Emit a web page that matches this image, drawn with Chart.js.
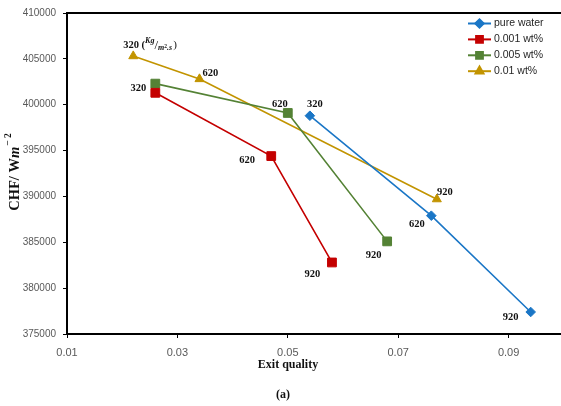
<!DOCTYPE html>
<html>
<head>
<meta charset="utf-8">
<script src="https://cdn.jsdelivr.net/npm/chart.js@4.4.1/dist/chart.umd.min.js"></script>
<style>
  html, body { margin: 0; padding: 0; background: #fff; overflow: hidden; }
  #wrap { width: 571px; height: 406px; }
</style>
</head>
<body>
<div id="wrap"><canvas id="c" width="571" height="406"></canvas></div>
<script>
// Series names and mass-flux labels (kg/m2.s) attached to each point
const seriesNames = ['pure water', '0.001 wt%', '0.005 wt%', '0.01 wt%'];
const massFlux = ['320', '620', '920'];

// Exit quality (x) and CHF in W/m2 (y) per series
const pureWaterX = [0.054, 0.076, 0.094];
const pureWaterY = [398800, 387900, 377400];
const wt001X = [0.026, 0.047, 0.058];
const wt001Y = [401300, 394400, 382800];
const wt005X = [0.026, 0.050, 0.068];
const wt005Y = [402300, 399100, 385100];
const wt01X = [0.022, 0.034, 0.077];
const wt01Y = [405300, 402800, 389700];

// Axis ticks
const xTicks = [0.01, 0.03, 0.05, 0.07, 0.09];
const yTicks = [375000, 380000, 385000, 390000, 395000, 400000, 405000, 410000];

const colors = ['#1A76C6', '#C40000', '#548235', '#C29400'];
const pointStyles = ['rectRot', 'rect', 'rect', 'triangle'];
const pointRadii = [4.8, 6.2, 6.2, 5.2];
const legendRadii = [4.2, 4.8, 4.8, 4.6];

// label offsets (px) from each point; null = no label drawn
const labelOffsets = [
  [[5, -11], [-14.5, 8.5], [-20, 4.8]],
  [[-17, -4.5], [-24, 4], [-19.5, 12]],
  [null, [-8, -9], [-13.5, 13.7]],
  [[-10, -11], [11, -6], [8, -7]]
];

const xs = [pureWaterX, wt001X, wt005X, wt01X];
const ys = [pureWaterY, wt001Y, wt005Y, wt01Y];

const serif = '"Liberation Serif", "Times New Roman", serif';
const sans = '"Liberation Sans", Arial, sans-serif';

function toPoints(xv, yv) { return xv.map((x, i) => ({ x: x, y: yv[i] })); }

function drawRich(ctx, parts, x, y) {
  let cx = x;
  ctx.textAlign = 'left';
  ctx.textBaseline = 'middle';
  for (const p of parts) {
    ctx.font = p.font;
    ctx.fillText(p.t, cx, y + (p.dy || 0));
    cx += ctx.measureText(p.t).width + (p.gap || 0);
  }
}
function richWidth(ctx, parts) {
  let w = 0;
  for (const p of parts) { ctx.font = p.font; w += ctx.measureText(p.t).width + (p.gap || 0); }
  return w;
}

const unitParts = [
  { t: '320 (', font: 'bold 10.5px ' + serif },
  { t: 'Kg', font: 'italic bold 8px ' + serif, dy: -4 },
  { t: '/', font: '13px ' + serif, dy: 0 },
  { t: 'm', font: 'italic bold 8px ' + serif, dy: 3 },
  { t: '2', font: 'bold 5.5px ' + serif, dy: 1 },
  { t: '.s', font: 'italic bold 8px ' + serif, dy: 3, gap: 1 },
  { t: ')', font: '11px ' + serif, dy: 0 }
];

const pointLabels = {
  id: 'pointLabels',
  afterDatasetsDraw(chart) {
    const ctx = chart.ctx;
    ctx.save();
    ctx.fillStyle = '#111';
    chart.data.datasets.forEach((ds, di) => {
      const meta = chart.getDatasetMeta(di);
      meta.data.forEach((pt, pi) => {
        const off = labelOffsets[di][pi];
        if (!off) return;
        if (di === 3 && pi === 0) {
          drawRich(ctx, unitParts, pt.x + off[0], pt.y + off[1]);
        } else {
          ctx.font = 'bold 10.5px ' + serif;
          ctx.textAlign = 'center';
          ctx.textBaseline = 'middle';
          ctx.fillText(massFlux[pi], pt.x + off[0], pt.y + off[1]);
        }
      });
    });
    ctx.restore();
  }
};

const frameAndTitles = {
  id: 'frameAndTitles',
  afterDraw(chart) {
    const ctx = chart.ctx;
    const a = chart.chartArea;
    ctx.save();
    // top frame line
    ctx.strokeStyle = '#000';
    ctx.lineWidth = 2;
    ctx.beginPath();
    ctx.moveTo(a.left - 1, a.top);
    ctx.lineTo(chart.width, a.top);
    ctx.stroke();

    ctx.fillStyle = '#111';
    // x title
    ctx.font = 'bold 12px ' + serif;
    ctx.textAlign = 'center';
    ctx.textBaseline = 'middle';
    ctx.fillText('Exit quality', 288, 365);
    ctx.fillText('(a)', 283, 395);

    // y title
    const yParts = [
      { t: 'CHF/ W', font: 'bold 14.5px ' + serif },
      { t: 'm', font: 'bold italic 14.5px ' + serif, gap: 1 },
      { t: '\u2212 2', font: 'bold 9.5px ' + serif, dy: -6 }
    ];
    const w = richWidth(ctx, yParts);
    ctx.translate(15, 172);
    ctx.rotate(-Math.PI / 2);
    drawRich(ctx, yParts, -w / 2, 0);
    ctx.restore();

    // legend
    ctx.save();
    chart.data.datasets.forEach((ds, i) => {
      const y = 23.5 + i * 15.9;
      ctx.strokeStyle = colors[i];
      ctx.lineWidth = 2;
      ctx.beginPath();
      ctx.moveTo(468, y);
      ctx.lineTo(491, y);
      ctx.stroke();
      ctx.fillStyle = colors[i];
      Chart.helpers.drawPoint(ctx, { pointStyle: pointStyles[i], radius: legendRadii[i], borderWidth: 1, rotation: 0 }, 479.5, y);
      ctx.fill();
      ctx.fillStyle = '#262626';
      ctx.font = '10.5px ' + sans;
      ctx.textAlign = 'left';
      ctx.textBaseline = 'middle';
      ctx.fillText(seriesNames[i], 494, y);
    });
    ctx.restore();
  }
};

const datasets = seriesNames.map((name, i) => ({
  label: name,
  data: toPoints(xs[i], ys[i]),
  showLine: true,
  borderColor: colors[i],
  backgroundColor: colors[i],
  borderWidth: 1.6,
  pointStyle: pointStyles[i],
  pointRadius: pointRadii[i],
  pointHoverRadius: pointRadii[i],
  pointBorderWidth: 1,
  pointBorderColor: colors[i],
  pointBackgroundColor: colors[i],
  tension: 0
}));

new Chart(document.getElementById('c'), {
  type: 'scatter',
  data: { datasets: datasets },
  options: {
    responsive: false,
    animation: false,
    events: [],
    layout: { padding: { top: 13, right: 3, left: 0, bottom: 0 } },
    plugins: { legend: { display: false }, tooltip: { enabled: false } },
    scales: {
      x: {
        type: 'linear',
        min: 0.01,
        max: 0.1,
        afterBuildTicks(axis) { axis.ticks = xTicks.map(v => ({ value: v })); },
        afterFit(axis) { axis.height = 72; },
        ticks: {
          callback: v => v.toFixed(2),
          color: '#595959',
          font: { family: sans, size: 11 },
          padding: 8,
          maxRotation: 0
        },
        grid: { drawOnChartArea: false, drawTicks: true, tickLength: 4, color: '#000', lineWidth: 1 },
        border: { color: '#000', width: 2 }
      },
      y: {
        type: 'linear',
        min: 375000,
        max: 410000,
        afterBuildTicks(axis) { axis.ticks = yTicks.map(v => ({ value: v })); },
        afterFit(axis) { axis.width = 67; },
        ticks: {
          callback: v => String(v),
          color: '#595959',
          font: { family: sans, size: 10 },
          padding: 7
        },
        grid: { drawOnChartArea: false, drawTicks: true, tickLength: 4, color: '#000', lineWidth: 1 },
        border: { color: '#000', width: 2 }
      }
    }
  },
  plugins: [pointLabels, frameAndTitles]
});
</script>
</body>
</html>
